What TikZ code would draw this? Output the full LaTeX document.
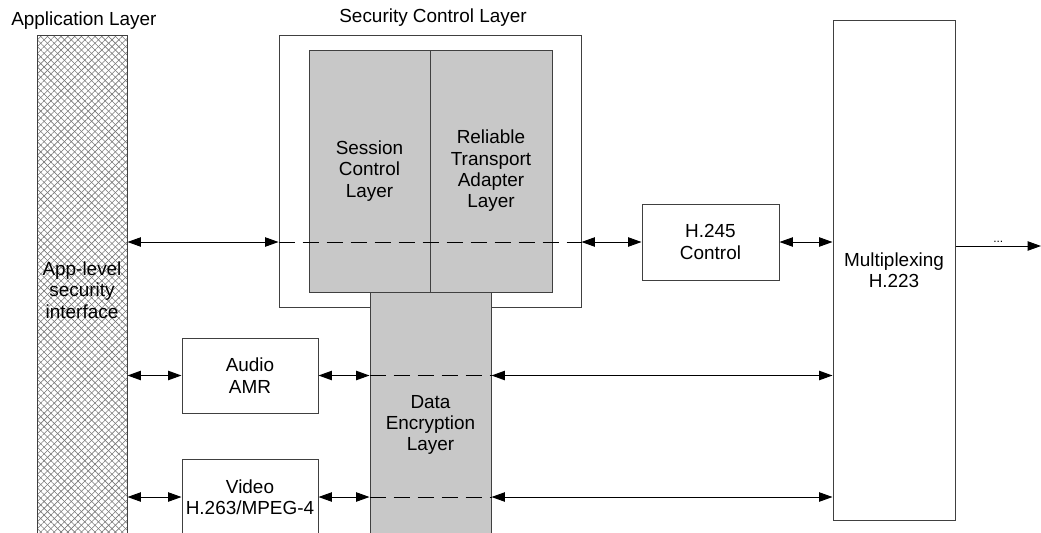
\documentclass[tikz,border=0pt]{standalone}
\usepackage{fontspec}
\setmainfont{Liberation Sans}
\usetikzlibrary{arrows.meta,patterns.meta}
\definecolor{boxline}{RGB}{64,64,64}
\definecolor{layerfill}{RGB}{200,200,200}
\definecolor{hatchgray}{RGB}{120,120,120}
\begin{document}
\begin{tikzpicture}[x=0.75pt,y=0.75pt,yscale=-1,xscale=1,
  font=\fontsize{14.2}{16}\selectfont,
  box/.style={draw=boxline, line width=0.75pt, align=center, inner sep=0pt},
  layer/.style={box, fill=layerfill},
  hatched/.style={box,
    preaction={pattern={Lines[angle=45,distance=3.6pt,line width=0.45pt]}, pattern color=hatchgray},
    preaction={pattern={Lines[angle=-45,distance=3.6pt,line width=0.45pt]}, pattern color=hatchgray}},
  link/.style={line width=0.75pt, {Triangle[length=10pt,width=7pt]}-{Triangle[length=10pt,width=7pt]}},
  pass/.style={line width=0.75pt, dash pattern=on 12pt off 6pt}
]
\useasboundingbox (0,0) rectangle (1041,532);
% layers
\node [hatched, minimum width=67.5pt, minimum height=382.5pt] (app) at (82,290) {App-level\\security\\interface};
\node [box, minimum width=226.5pt, minimum height=204pt] (secout) at (430,171) {};
\node [layer, minimum width=90.75pt, minimum height=181.5pt] (session) at (369.5,171) {Session\\Control\\Layer};
\node [layer, minimum width=91.5pt, minimum height=181.5pt] (rta) at (491,171) {Reliable\\Transport\\Adapter\\Layer};
\node [layer, minimum width=90.75pt, minimum height=199.5pt] (enc) at (430.5,425) {Data\\Encryption\\Layer};
\node [box, minimum width=102.75pt, minimum height=57pt] (h245) at (710.5,242) {H.245\\Control};
\node [box, minimum width=91.5pt, minimum height=375pt] (mux) at (894,270) {Multiplexing\\H.223};
\node [box, minimum width=102pt, minimum height=56.25pt] (audio) at (250,375.5) {Audio\\AMR};
\node [box, minimum width=102pt, minimum height=57pt] (video) at (250,497) {Video\\H.263/MPEG-4};
% titles
\node [anchor=west, inner sep=0pt] (applbl) at (11,21) {Application Layer};
\node [inner sep=0pt] (seclbl) at (433,18) {Security Control Layer};
% control path
\draw [link] (app.east |- h245.west) -- (secout.west |- h245.west);
\draw [pass] (secout.west |- h245.west) -- (secout.east |- h245.west);
\draw [link] (secout.east |- h245.west) -- (h245.west);
\draw [link] (h245.east) -- (mux.west |- h245.east);
% audio path
\draw [link] (app.east |- audio.west) -- (audio.west);
\draw [link] (audio.east) -- (enc.west |- audio.east);
\draw [pass] (enc.west |- audio.east) -- (enc.east |- audio.east);
\draw [link] (enc.east |- audio.east) -- (mux.west |- audio.east);
% video path
\draw [link] (app.east |- video.west) -- (video.west);
\draw [link] (video.east) -- (enc.west |- video.east);
\draw [pass] (enc.west |- video.east) -- (enc.east |- video.east);
\draw [link] (enc.east |- video.east) -- (mux.west |- video.east);
% output
\coordinate (out) at (1041,246);
\draw [line width=0.75pt, -{Triangle[length=10pt,width=7pt]}] (mux.east |- out) -- (out) node [midway, above, inner sep=2pt, font=\fontsize{9}{10}\selectfont] {...};
\end{tikzpicture}
\end{document}
